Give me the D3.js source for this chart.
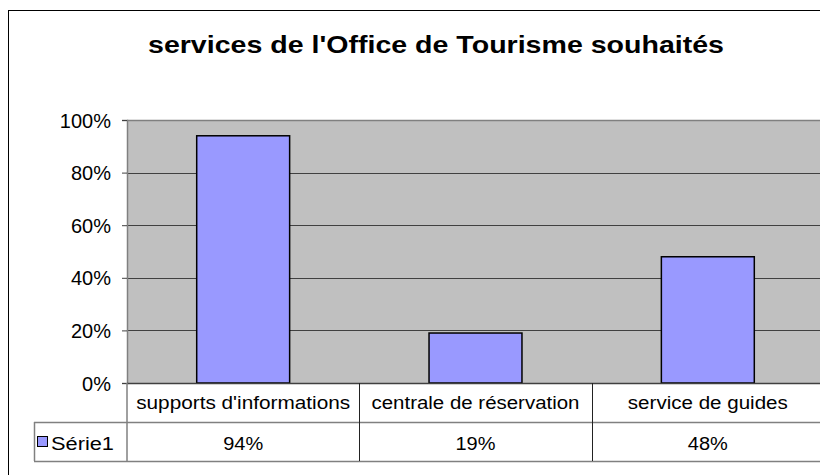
<!DOCTYPE html>
<html><head><meta charset="utf-8">
<script src="https://cdn.jsdelivr.net/npm/d3@7"></script>
<style>html,body{margin:0;padding:0;background:#fff;}svg{display:block;}</style>
</head><body>
<svg id="c" width="820" height="475"></svg>
<script>
const title = "services de l'Office de Tourisme souhaités";
const categories = ["supports d'informations", "centrale de réservation", "service de guides"];
const seriesName = "Série1";
const values = [0.94, 0.19, 0.48];
const valueLabels = ["94%", "19%", "48%"];
const yTicks = [0, 0.2, 0.4, 0.6, 0.8, 1.0];

const svg = d3.select("#c");
const font = "Arial, 'Liberation Sans', sans-serif";

// outer border (cropped at right/bottom)
svg.append("rect").attr("x", 8.5).attr("y", 10.5).attr("width", 900).attr("height", 500)
  .attr("fill", "#fff").attr("stroke", "#000").attr("stroke-width", 1);

const pLeft = 127, pRight = 824, pTop = 120, pBottom = 383;
const x = d3.scaleBand().domain(categories).range([pLeft, pRight]).paddingInner(0.6).paddingOuter(0.3);
const xCell = d3.scaleBand().domain(categories).range([pLeft, pRight]);
const y = d3.scaleLinear().domain([0, 1]).range([pBottom, pTop]);

// title
svg.append("text").attr("x", 436).attr("y", 53).attr("text-anchor", "middle")
  .attr("font-family", font).attr("font-weight", "bold").attr("font-size", 24.5)
  .attr("textLength", 576).attr("lengthAdjust", "spacingAndGlyphs")
  .text(title);

// plot bg
svg.append("rect").attr("x", pLeft).attr("y", pTop).attr("width", pRight - pLeft).attr("height", pBottom - pTop)
  .attr("fill", "#c0c0c0");

// gridlines
svg.append("g").selectAll("line").data(yTicks.filter(d => d > 0)).join("line")
  .attr("x1", pLeft).attr("x2", pRight)
  .attr("y1", d => Math.round(y(d)) + 0.5).attr("y2", d => Math.round(y(d)) + 0.5)
  .attr("stroke", d => d === 1 ? "#808080" : "#404040").attr("stroke-width", d => d === 1 ? 1.5 : 1);

// bars
svg.append("g").selectAll("rect").data(values).join("rect")
  .attr("x", (d, i) => x(categories[i]))
  .attr("y", d => y(d))
  .attr("width", x.bandwidth())
  .attr("height", d => y(0) - y(d))
  .attr("fill", "#9999ff").attr("stroke", "#000").attr("stroke-width", 1.5);

// y axis
const yAxis = d3.axisLeft(y).tickValues(yTicks).tickFormat(d3.format(".0%")).tickSize(5).tickPadding(11);
const gy = svg.append("g").attr("transform", `translate(${pLeft},0)`).call(yAxis);
gy.select(".domain").attr("stroke", "#808080").attr("stroke-width", 1.5);
gy.selectAll(".tick line").attr("stroke", "#404040");
gy.selectAll(".tick text").attr("font-family", font).attr("font-size", 20).attr("fill", "#000").attr("dy", "0.35em");

// x axis baseline
svg.append("line").attr("x1", pLeft).attr("x2", pRight).attr("y1", pBottom + 0.5).attr("y2", pBottom + 0.5)
  .attr("stroke", "#404040").attr("stroke-width", 1.5);

// data table
const row1 = 422, row2 = 461, legLeft = 34;
const tg = svg.append("g");
tg.append("line").attr("x1", legLeft).attr("x2", 820).attr("y1", row1 + 0.5).attr("y2", row1 + 0.5).attr("stroke", "#808080").attr("stroke-width", 1.5);
tg.append("line").attr("x1", legLeft).attr("x2", 820).attr("y1", row2 + 0.5).attr("y2", row2 + 0.5).attr("stroke", "#808080").attr("stroke-width", 1.5);
tg.append("line").attr("x1", legLeft + 0.5).attr("x2", legLeft + 0.5).attr("y1", row1).attr("y2", row2).attr("stroke", "#808080").attr("stroke-width", 1.5);
tg.append("line").attr("x1", pLeft).attr("x2", pLeft).attr("y1", pBottom).attr("y2", row2).attr("stroke", "#808080").attr("stroke-width", 1.5);
tg.selectAll("line.div").data(categories.slice(1)).join("line").attr("class", "div")
  .attr("x1", d => Math.round(xCell(d)) + 0.5).attr("x2", d => Math.round(xCell(d)) + 0.5)
  .attr("y1", pBottom).attr("y2", row2).attr("stroke", "#222").attr("stroke-width", 1);

const catLens = [214, 208, 160];
tg.selectAll("text.cat").data(categories).join("text").attr("class", "cat")
  .attr("x", d => xCell(d) + xCell.bandwidth() / 2).attr("y", 409)
  .attr("text-anchor", "middle").attr("font-family", font).attr("font-size", 17.5)
  .attr("textLength", (d, i) => catLens[i]).attr("lengthAdjust", "spacingAndGlyphs")
  .text(d => d);

tg.selectAll("text.val").data(valueLabels).join("text").attr("class", "val")
  .attr("x", (d, i) => xCell(categories[i]) + xCell.bandwidth() / 2).attr("y", 450)
  .attr("text-anchor", "middle").attr("font-family", font).attr("font-size", 17.5)
  .attr("textLength", 40).attr("lengthAdjust", "spacingAndGlyphs")
  .text(d => d);

// legend key
tg.append("rect").attr("x", 37.5).attr("y", 436.5).attr("width", 10).attr("height", 10)
  .attr("fill", "#9999ff").attr("stroke", "#000").attr("stroke-width", 1);
tg.append("text").attr("x", 51).attr("y", 450).attr("font-family", font).attr("font-size", 17.5)
  .attr("textLength", 63).attr("lengthAdjust", "spacingAndGlyphs").text(seriesName);
</script>
</body></html>
